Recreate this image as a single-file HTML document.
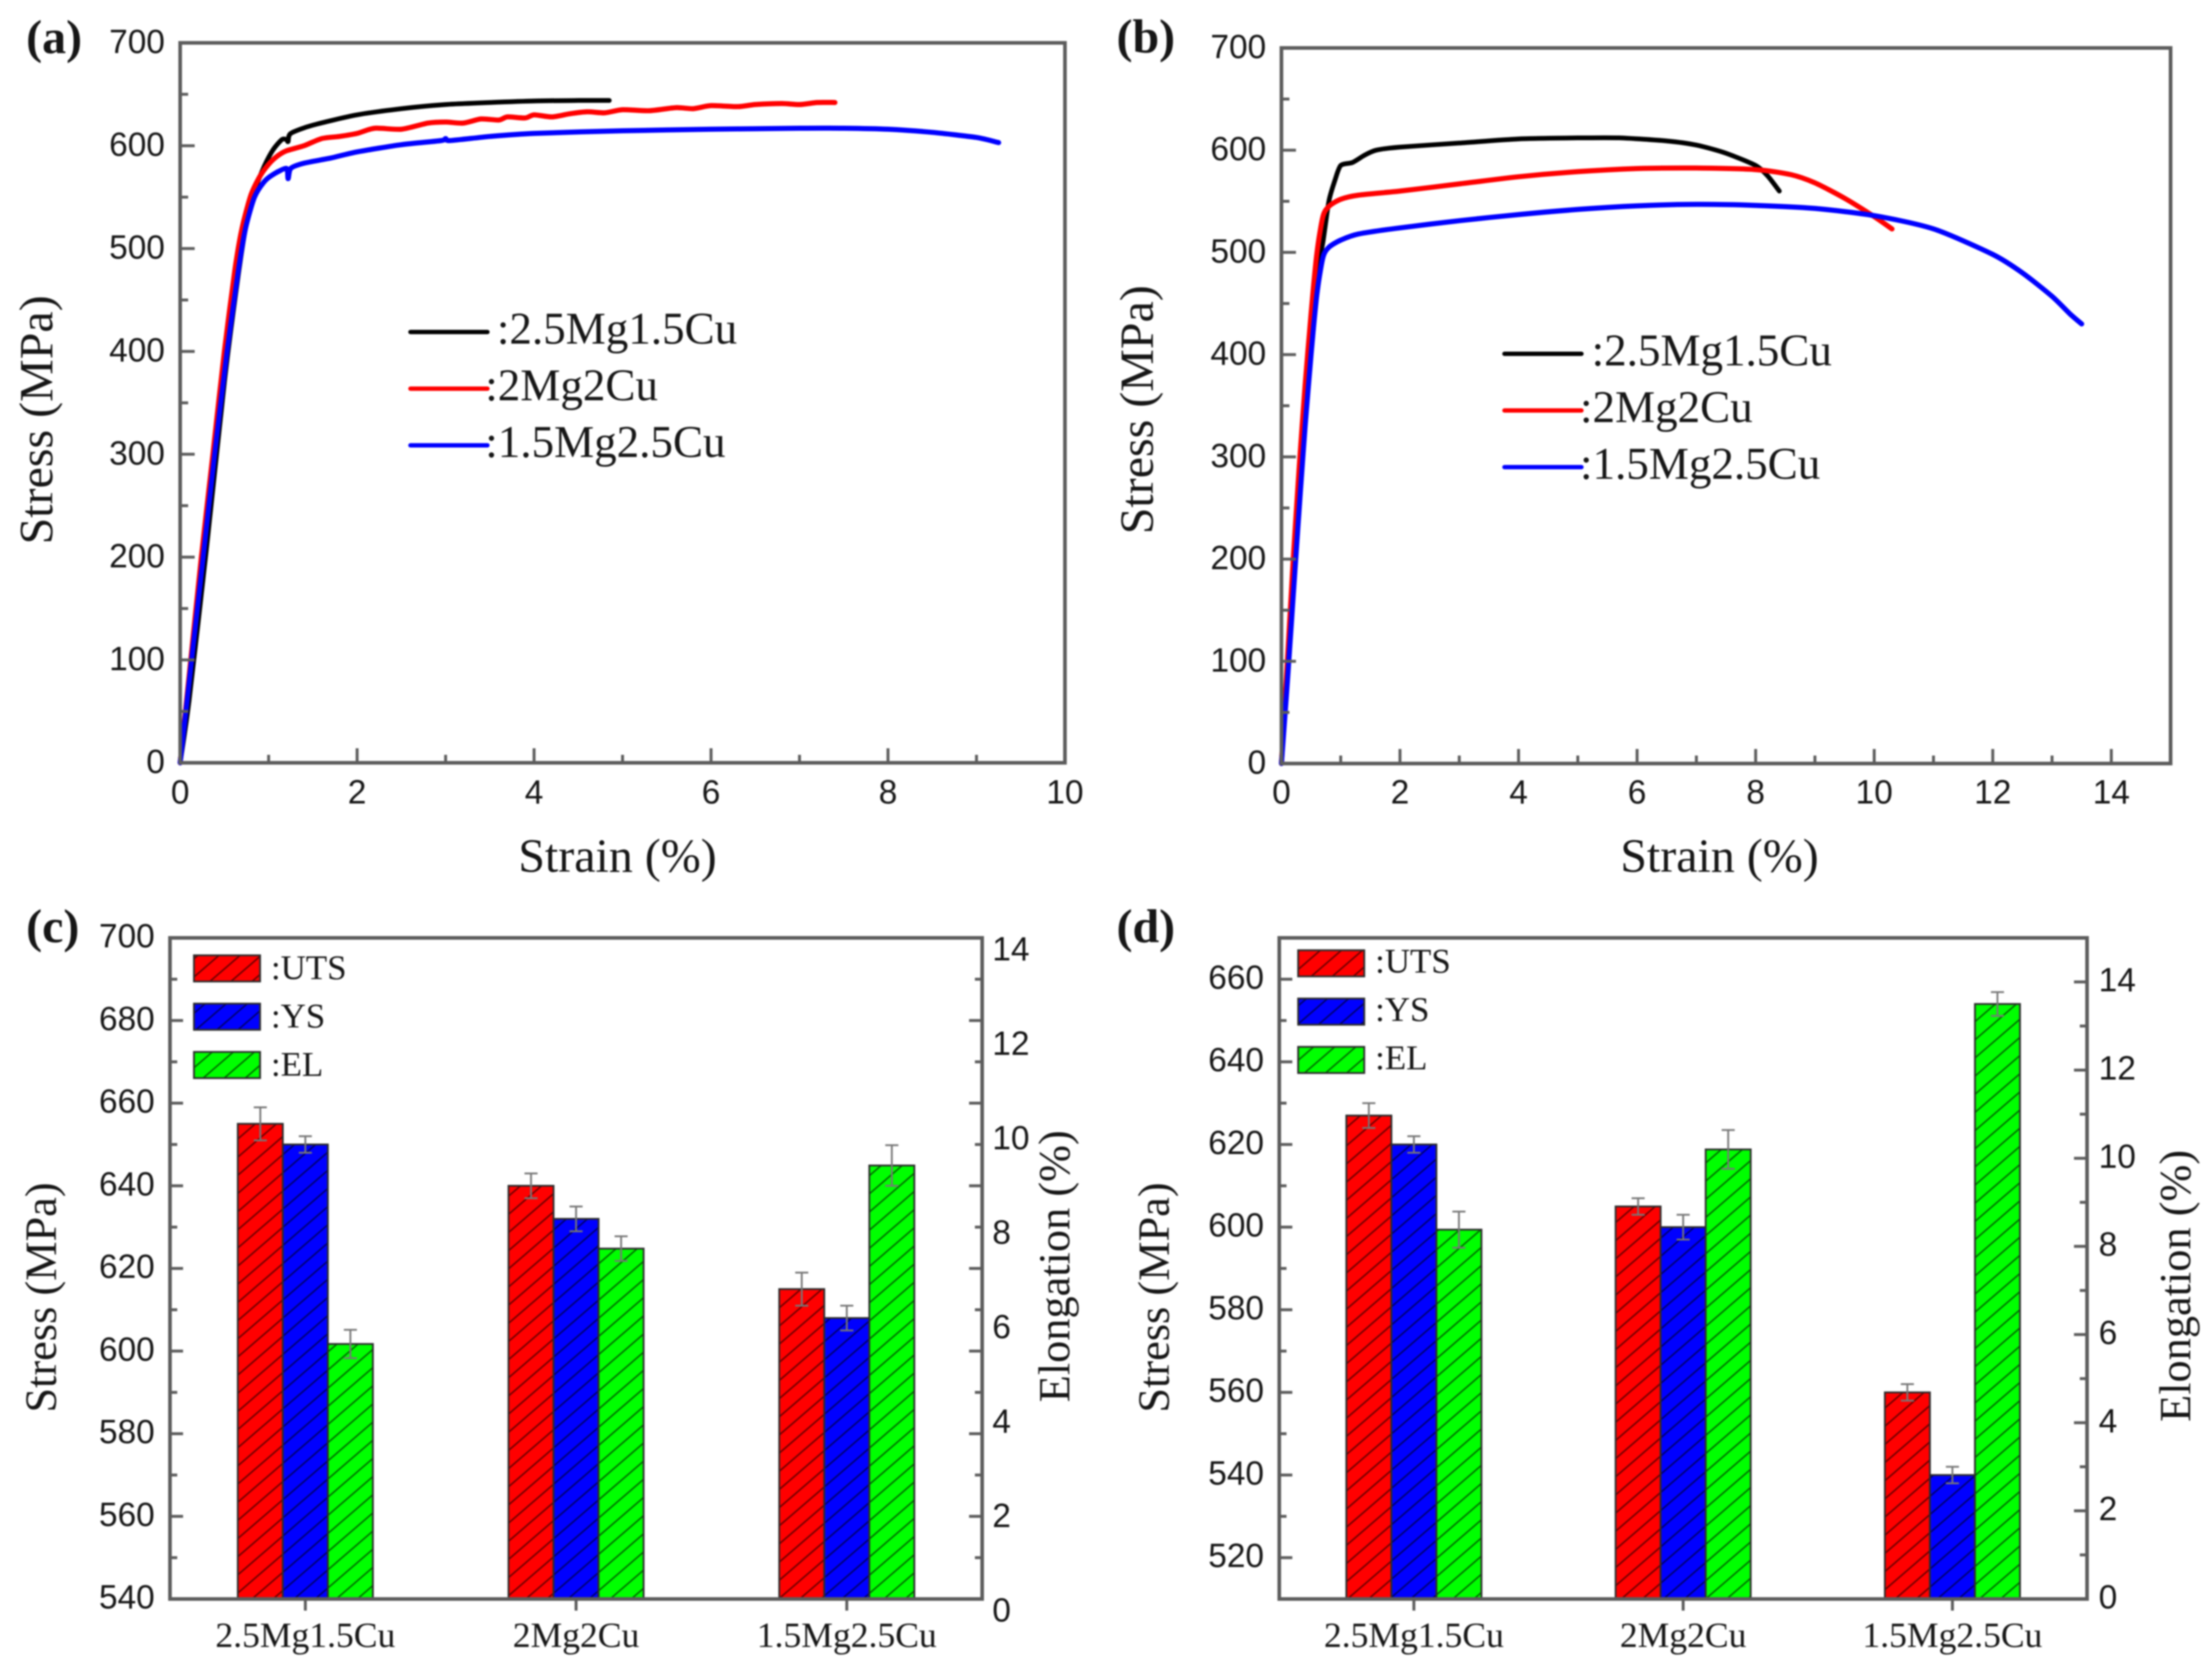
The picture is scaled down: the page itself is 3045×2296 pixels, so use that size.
<!DOCTYPE html>
<html lang="en">
<head>
<meta charset="utf-8">
<title>Tensile properties of 2.5Mg1.5Cu, 2Mg2Cu and 1.5Mg2.5Cu alloys</title>
<style>
html,body{margin:0;padding:0;background:#fff;width:3045px;height:2296px;overflow:hidden}
#figure{display:block;filter:blur(1.1px)}
text{fill:#161616}
.sans{font-family:"Liberation Sans",Arial,sans-serif}
.serif{font-family:"Liberation Serif","Times New Roman",serif}
</style>
</head>
<body>
<svg id="figure" xmlns="http://www.w3.org/2000/svg" width="3045" height="2296" viewBox="0 0 3045 2296">
  <defs>
    <pattern id="hatch" patternUnits="userSpaceOnUse" width="29" height="25">
      <path d="M-5.8,30 L34.8,-5 M-5.8,5 L5.8,-5 M23.2,30 L34.8,20" stroke="#000" stroke-opacity="0.6" stroke-width="2" fill="none"/>
    </pattern>
  </defs>
</svg>
<script>
// ---------- shared labels ----------
const alloyNames = ['2.5Mg1.5Cu', '2Mg2Cu', '1.5Mg2.5Cu'];
const curveLegendLabels = [':2.5Mg1.5Cu', ':2Mg2Cu', ':1.5Mg2.5Cu'];
const barLegendLabels = [':UTS', ':YS', ':EL'];

// ---------- panel (a) curves ----------
const aStrainBlack = [0,0.1,0.3,0.5,0.65,0.75,0.85,0.95,1.05,1.15,1.2,1.22,1.25,1.5,2,2.5,3,3.5,4,4.5,4.85];
const aStressBlack = [0,60,210,370,470,525,558,580,596,606,606,604,612,620,630,636,640,642,643.5,644,644];
const aStrainRed = [0,0.12,0.24,0.37,0.5,0.62,0.7,0.8,0.9,1,1.1,1.2,1.4,1.6,1.8,2,2.2,2.5,2.8,3,3.2,3.4,3.6,3.7,3.9,4,4.2,4.4,4.6,4.8,5,5.3,5.6,5.8,6,6.3,6.5,6.8,7,7.2,7.4];
const aStressRed = [0,100,200,300,400,480,520,552,570,582,590,595,600,607,609,612,617,616,622,623,622,626,625,628,627,630,628,631,633,632,635,634,637,636,639,638,640,641,640,642,642];
const aStrainBlue = [0,0.13,0.26,0.39,0.53,0.66,0.74,0.84,0.95,1.05,1.2,1.22,1.25,1.4,1.7,2,2.5,2.95,3,3.05,3.5,4,5,6,7,7.5,8,8.5,9,9.25];
const aStressBlue = [0,100,200,300,400,480,520,550,565,572,578,568,578,583,588,594,601,605,607,605,609,612,614.5,616,617,617,616,613,608,603];

// ---------- panel (b) curves ----------
const bStrainBlack = [0,0.1,0.2,0.3,0.4,0.5,0.6,0.7,0.8,0.9,1,1.2,1.4,1.6,2,3,4,5,5.7,6.5,7,7.5,8,8.2,8.4];
const bStressBlack = [0,90,180,270,350,430,480,510,550,570,585,588,595,600,603,607,611,612,612,609,605,597,585,575,560];
const bStrainRed = [0,0.1,0.2,0.3,0.4,0.5,0.6,0.7,0.8,1,1.3,2,3,4,5,6,7,8,8.6,9,9.5,10,10.3];
const bStressRed = [0,100,200,290,370,440,500,535,545,552,556,560,567,574,579,582,582.5,581,576,568,553,535,523];
const bStrainBlue = [0,0.1,0.2,0.3,0.4,0.5,0.6,0.7,0.8,1,1.3,2,3,4,5,6,7,8,9,10,11,12,12.5,13,13.3,13.5];
const bStressBlue = [0,80,165,250,330,400,460,495,505,512,518,524,531,537,542,545.5,547,546,543,536,523,498,480,457,440,430];

// ---------- panel (c) bars ----------
const cUTS = [655, 640, 615];
const cYS = [650, 632, 608];
const cEL = [5.4, 7.42, 9.18];
const cUTSerr = [4, 3, 4];
const cYSerr = [2, 3, 3];
const cELerr = [0.3, 0.26, 0.43];

// ---------- panel (d) bars ----------
const dUTS = [627, 605, 560];
const dYS = [620, 600, 540];
const dEL = [8.38, 10.2, 13.5];
const dUTSerr = [3, 2, 2];
const dYSerr = [2, 3, 2];
const dELerr = [0.41, 0.44, 0.27];

// ---------- tick labels ----------
const curveStressTicks = [0, 100, 200, 300, 400, 500, 600, 700];
const aStrainTicks = [0, 2, 4, 6, 8, 10];
const bStrainTicks = [0, 2, 4, 6, 8, 10, 12, 14];
const cStressTicks = [540, 560, 580, 600, 620, 640, 660, 680, 700];
const dStressTicks = [520, 540, 560, 580, 600, 620, 640, 660];
const elongationTicks = [0, 2, 4, 6, 8, 10, 12, 14];

const SVGNS = 'http://www.w3.org/2000/svg';
const root = document.getElementById('figure');
const AXIS = '#5c5c5c';
const COLORS = {black:'#000000', red:'#ff0000', blue:'#0000ff', green:'#00ff00'};

function make(tag, attrs, parent) {
  const n = document.createElementNS(SVGNS, tag);
  for (const k in attrs) n.setAttribute(k, attrs[k]);
  (parent || root).appendChild(n);
  return n;
}
function makeText(content, x, y, size, cls, anchor, parent, rotate, weight) {
  const attrs = {x:x, y:y, 'font-size':size, class:cls, 'text-anchor':anchor};
  if (rotate) attrs.transform = 'rotate(-90 ' + x + ' ' + y + ')';
  if (weight) attrs['font-weight'] = weight;
  const n = make('text', attrs, parent);
  n.textContent = content;
  return n;
}
function linear(d0, d1, r0, r1) {
  return function (v) { return r0 + (v - d0) * (r1 - r0) / (d1 - d0); };
}
// Smooth path through the sampled points (light Catmull-Rom)
function smoothPath(px, py) {
  let d = 'M' + px[0].toFixed(1) + ',' + py[0].toFixed(1);
  const k = 1 / 8;
  for (let i = 0; i < px.length - 1; i++) {
    const i0 = Math.max(0, i - 1);
    const i3 = Math.min(px.length - 1, i + 2);
    const c1x = px[i] + (px[i + 1] - px[i0]) * k;
    const c1y = py[i] + (py[i + 1] - py[i0]) * k;
    const c2x = px[i + 1] - (px[i3] - px[i]) * k;
    const c2y = py[i + 1] - (py[i3] - py[i]) * k;
    d += ' C' + c1x.toFixed(1) + ',' + c1y.toFixed(1) + ' ' + c2x.toFixed(1) + ',' + c2y.toFixed(1) + ' ' + px[i + 1].toFixed(1) + ',' + py[i + 1].toFixed(1);
  }
  return d;
}
function tickLine(x1, y1, x2, y2, parent) {
  const t = make('line', {x1:x1, y1:y1, x2:x2, y2:y2, stroke:AXIS, 'stroke-width':4}, parent);
  
  
}
function frame(g, box) {
  const r = make('rect', {x:box.l, y:box.t, width:box.r - box.l, height:box.b - box.t, fill:'none', stroke:AXIS, 'stroke-width':5}, g);
  
  
}
function panelLetter(g, letter, x, y) {
  const t = makeText(letter, x, y, 66, 'serif', 'start', g, false, 'bold');
  
  
}
function axisTitle(g, content, x, y, size, rotated, name) {
  const t = makeText(content, x, y, size, 'serif', 'middle', g, rotated);
  
  
}

// ---------- curve panels ----------
function curvePanel(cfg) {
  const g = make('g', {}, root);
  
  
  const box = cfg.box;
  const xs = linear(0, cfg.xMax, box.l, box.r);
  const ys = linear(0, 700, box.b, box.t);

  cfg.series.forEach(function (s) {
    const line = make('path', {d:smoothPath(s.x.map(xs), s.y.map(ys)), fill:'none', stroke:s.color, 'stroke-width':s.width, 'stroke-linejoin':'round', 'stroke-linecap':'round'}, g);
    
    
  });

  frame(g, box);

  for (let v = 0; v <= 700; v += 50) {
    tickLine(box.l, ys(v), box.l + (v % 100 === 0 ? 20 : 11), ys(v), g);
  }
  for (let v = 0; v <= cfg.xMax; v += 1) {
    tickLine(xs(v), box.b, xs(v), box.b - (v % 2 === 0 ? 20 : 11), g);
  }
  curveStressTicks.forEach(function (v) {
    const t = makeText(String(v), box.l - 21, ys(v) + 14, 46, 'sans', 'end', g);
    
    
  });
  cfg.xTicks.forEach(function (v) {
    const t = makeText(String(v), xs(v), 1106, 46, 'sans', 'middle', g);
    
    
  });

  axisTitle(g, 'Stress (MPa)', cfg.yTitleX, cfg.yTitleY, 66, true, 'y-axis-title');
  axisTitle(g, 'Strain (%)', cfg.xTitleX, 1200, 66, false, 'x-axis-title');
  panelLetter(g, cfg.letter, cfg.letterX, cfg.letterY);

  cfg.series.forEach(function (s, i) {
    const ly = cfg.legendY + i * 78;
    const seg = make('line', {x1:cfg.legendX, x2:cfg.legendX + 106, y1:ly, y2:ly, stroke:s.color, 'stroke-width':6, 'stroke-linecap':'round'}, g);
    
    
    const tx = cfg.legendX + (i === 0 ? cfg.legendFirstGap : cfg.legendGap);
    const lab = makeText(curveLegendLabels[i], tx, ly + 16, 62, 'serif', 'start', g);
    
    
  });
}

curvePanel({
  name:'panel-a', letter:'(a)', letterX:36, letterY:73,
  box:{l:248, r:1466, t:59, b:1050}, xMax:10, xTicks:aStrainTicks,
  yTitleX:72, yTitleY:578, xTitleX:850,
  legendX:565, legendY:457, legendFirstGap:119, legendGap:103,
  series:[
    {key:'2.5mg1.5cu', x:aStrainBlack, y:aStressBlack, color:COLORS.black, width:6.5},
    {key:'2mg2cu', x:aStrainRed, y:aStressRed, color:COLORS.red, width:7},
    {key:'1.5mg2.5cu', x:aStrainBlue, y:aStressBlue, color:COLORS.blue, width:7}
  ]
});
curvePanel({
  name:'panel-b', letter:'(b)', letterX:1537, letterY:72,
  box:{l:1764, r:2988, t:66, b:1051}, xMax:15, xTicks:bStrainTicks,
  yTitleX:1587, yTitleY:564, xTitleX:2367,
  legendX:2071, legendY:487, legendFirstGap:120, legendGap:104,
  series:[
    {key:'2.5mg1.5cu', x:bStrainBlack, y:bStressBlack, color:COLORS.black, width:6.5},
    {key:'2mg2cu', x:bStrainRed, y:bStressRed, color:COLORS.red, width:7},
    {key:'1.5mg2.5cu', x:bStrainBlue, y:bStressBlue, color:COLORS.blue, width:7}
  ]
});

// ---------- bar panels ----------
function barPanel(cfg) {
  const g = make('g', {}, root);
  
  
  const box = cfg.box;
  const BW = 62;
  const yL = linear(cfg.yMin, cfg.yMax, box.b, box.t);
  const yR = linear(0, cfg.elMax, box.b, box.t);
  const step = (box.r - box.l) / alloyNames.length;
  const xC = function (i) { return box.l + (i + 0.5) * step; };

  function bar(i, offset, value, err, scale, color, key) {
    const x = xC(i) + offset * BW - BW / 2;
    const top = scale(value);
    const cx = x + BW / 2;
    const base = make('rect', {x:x, y:top, width:BW, height:box.b - top, fill:color}, g);
    
    
    const hatch = make('rect', {x:x, y:top, width:BW, height:box.b - top, fill:'url(#hatch)', stroke:'#2c2c2c', 'stroke-width':2.5}, g);
    
    
    const e1 = scale(value + err);
    const e2 = scale(value - err);
    const stem = make('path', {d:'M' + cx + ',' + e2 + ' V' + e1 + ' M' + (cx - 9) + ',' + e1 + ' H' + (cx + 9) + ' M' + (cx - 9) + ',' + e2 + ' H' + (cx + 9), fill:'none', stroke:'#777', 'stroke-width':2.5}, g);
    
    
  }

  alloyNames.forEach(function (name, i) {
    bar(i, -1, cfg.uts[i], cfg.utsErr[i], yL, COLORS.red, 'uts');
    bar(i, 0, cfg.ys[i], cfg.ysErr[i], yL, COLORS.blue, 'ys');
    bar(i, 1, cfg.el[i], cfg.elErr[i], yR, COLORS.green, 'el');
    tickLine(xC(i), box.b, xC(i), box.b + 16, g);
    const lab = makeText(name, xC(i), 2267, 49, 'serif', 'middle', g);
    
    
  });

  frame(g, box);

  for (let v = cfg.yMin; v <= cfg.yMax; v += 10) {
    tickLine(box.l, yL(v), box.l + ((v - cfg.leftMajorBase) % 20 === 0 ? 18 : 10), yL(v), g);
  }
  const rightSpan = box.b - box.t;
  for (let k = 0; k <= cfg.rightIntervals; k++) {
    const ty = box.b - k * rightSpan / cfg.rightIntervals;
    tickLine(box.r, ty, box.r - (k % 2 === 0 ? 18 : 10), ty, g);
  }
  cfg.stressTicks.forEach(function (v) {
    const t = makeText(String(v), box.l - 21, yL(v) + 13, 46, 'sans', 'end', g);
    
    
  });
  elongationTicks.forEach(function (v) {
    const t = makeText(String(v), box.r + cfg.rightLabelGap, yR(v) + cfg.rightLabelDy, 46, 'sans', 'start', g);
    
    
  });

  axisTitle(g, 'Stress (MPa)', cfg.leftTitleX, 1786, 61, true, 'left-axis-title');
  axisTitle(g, 'Elongation (%)', cfg.rightTitleX, cfg.rightTitleY, 61, true, 'right-axis-title');
  panelLetter(g, cfg.letter, cfg.letterX, 1297);

  [COLORS.red, COLORS.blue, COLORS.green].forEach(function (color, i) {
    const sy = cfg.legendY + i * 66.5;
    const sw = make('rect', {x:cfg.legendX, y:sy, width:91, height:36, fill:color}, g);
    
    
    const ov = make('rect', {x:cfg.legendX, y:sy, width:91, height:36, fill:'url(#hatch)', stroke:'#2c2c2c', 'stroke-width':2.5}, g);
    
    
    const lab = makeText(barLegendLabels[i], cfg.legendX + 106, sy + cfg.legendTextDy, 48, 'serif', 'start', g);
    
    
  });
}

barPanel({
  name:'panel-c', letter:'(c)', letterX:36,
  box:{l:234, r:1352, t:1291, b:2201}, yMin:540, yMax:700, leftMajorBase:540,
  elMax:14, rightIntervals:16, rightLabelGap:14, rightLabelDy:31,
  stressTicks:cStressTicks,
  uts:cUTS, ys:cYS, el:cEL, utsErr:cUTSerr, ysErr:cYSerr, elErr:cELerr,
  leftTitleX:77, rightTitleX:1472, rightTitleY:1743,
  legendX:267, legendY:1315, legendTextDy:33
});
barPanel({
  name:'panel-d', letter:'(d)', letterX:1537,
  box:{l:1761, r:2873, t:1291, b:2201}, yMin:510, yMax:670, leftMajorBase:520,
  elMax:15, rightIntervals:15, rightLabelGap:16, rightLabelDy:13,
  stressTicks:dStressTicks,
  uts:dUTS, ys:dYS, el:dEL, utsErr:dUTSerr, ysErr:dYSerr, elErr:dELerr,
  leftTitleX:1609, rightTitleX:3015, rightTitleY:1770,
  legendX:1787, legendY:1308, legendTextDy:31
});
</script>
</body>
</html>
